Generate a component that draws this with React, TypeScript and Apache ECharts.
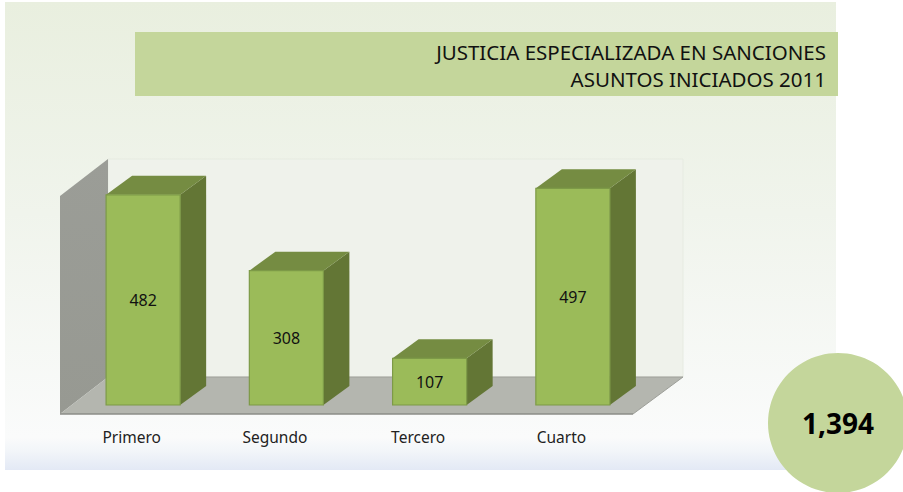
import React, { useEffect, useRef } from "react";
import * as echarts from "echarts";

const categories = ["Primero", "Segundo", "Tercero", "Cuarto"];
const values = [482, 308, 107, 497];
const titleLines = ["JUSTICIA ESPECIALIZADA EN SANCIONES", "ASUNTOS INICIADOS 2011"];
const totalLabel = "1,394";

const FONT = '"Noto Sans", sans-serif';
const W = 903, H = 492;
// 3D geometry, in pixels
const WALL_DX = 48, WALL_DY = 37, BACK_EXTRA = 2;
const BAR_SHIFT_X = 11.5, BAR_SHIFT_Y = 9;
const BAR_DX = 26, BAR_DY = 19;
const BAR_FRACTION = 0.517;

const renderWalls = (params: any) => {
  const c = params.coordSys;
  const x0 = c.x, x1 = c.x + c.width, top = c.y, bottom = c.y + c.height;
  return {
    type: "group",
    children: [
      {
        type: "rect",
        shape: { x: x0 + WALL_DX, y: top - WALL_DY, width: c.width + BACK_EXTRA, height: c.height },
        style: { fill: "#eff2eb", stroke: "#e6ebe1", lineWidth: 1 },
      },
      {
        type: "polygon",
        shape: { points: [[x0, bottom], [x0, top], [x0 + WALL_DX, top - WALL_DY], [x0 + WALL_DX, bottom - WALL_DY]] },
        style: {
          fill: new echarts.graphic.LinearGradient(0, 0, 0, 1, [
            { offset: 0, color: "#9b9d97" },
            { offset: 1, color: "#979992" },
          ]),
        },
      },
      {
        type: "polygon",
        shape: {
          points: [
            [x0, bottom],
            [x0 + WALL_DX, bottom - WALL_DY],
            [x1 + WALL_DX + BACK_EXTRA, bottom - WALL_DY],
            [x1, bottom],
          ],
        },
        style: { fill: "#b4b6af" },
      },
      {
        type: "line",
        shape: { x1: x0, y1: bottom, x2: x1, y2: bottom },
        style: { stroke: "#8b8d87", lineWidth: 1.5 },
      },
      {
        type: "line",
        shape: { x1: x0 + WALL_DX, y1: bottom - WALL_DY, x2: x1 + WALL_DX + BACK_EXTRA, y2: bottom - WALL_DY },
        style: { stroke: "#9d9f99", lineWidth: 1 },
      },
      {
        type: "line",
        shape: { x1, y1: bottom, x2: x1 + WALL_DX + BACK_EXTRA, y2: bottom - WALL_DY },
        style: { stroke: "#9d9f99", lineWidth: 1 },
      },
    ],
  };
};

const renderBar = (_params: any, api: any) => {
  const value = api.value(1);
  const [cx, yTop0] = api.coord([api.value(0), value]);
  const [, yBase0] = api.coord([api.value(0), 0]);
  const w = api.size([1, 0])[0] * BAR_FRACTION;
  const l = cx + BAR_SHIFT_X - w / 2, r = l + w;
  const t = yTop0 - BAR_SHIFT_Y, b = yBase0 - BAR_SHIFT_Y;
  return {
    type: "group",
    children: [
      {
        type: "polygon",
        shape: { points: [[r, t], [r + BAR_DX, t - BAR_DY], [r + BAR_DX, b - BAR_DY], [r, b]] },
        style: { fill: "#637635" },
      },
      {
        type: "polygon",
        shape: { points: [[l, t], [l + BAR_DX, t - BAR_DY], [r + BAR_DX, t - BAR_DY], [r, t]] },
        style: { fill: "#758c42" },
      },
      {
        type: "rect",
        shape: { x: l, y: t, width: w, height: b - t },
        style: { fill: "#9bbb59", stroke: "#7d9a47", lineWidth: 1.2 },
      },
      {
        type: "text",
        x: (l + r) / 2,
        y: (t + b) / 2,
        style: {
          text: String(value),
          fill: "#111",
          font: `16px ${FONT}`,
          align: "center",
          verticalAlign: "middle",
        },
      },
    ],
  };
};

export default function App() {
  const ref = useRef<HTMLDivElement>(null);
  useEffect(() => {
    document.body.style.margin = "0";
    const chart = echarts.init(ref.current!, undefined, { renderer: "svg" });
    chart.setOption({
      animation: false,
      backgroundColor: "#ffffff",
      grid: { left: 60, top: 196, width: 573, height: 218 },
      xAxis: {
        type: "category",
        data: categories,
        axisLine: { show: false },
        axisTick: { show: false },
        axisLabel: { color: "#222", fontFamily: FONT, fontSize: 15.5, margin: 15 },
      },
      yAxis: { type: "value", min: 0, max: 500, show: false, splitLine: { show: false } },
      series: [
        { type: "custom", coordinateSystem: "cartesian2d", renderItem: renderWalls, data: [[0, 0]], z: 1, silent: true },
        {
          type: "custom",
          coordinateSystem: "cartesian2d",
          renderItem: renderBar,
          encode: { x: 0, y: 1 },
          data: values.map((v, i) => [i, v]),
          z: 2,
        },
      ],
      graphic: {
        elements: [
          {
            type: "rect",
            z: -10,
            shape: { x: 5, y: 2, width: 831, height: 468 },
            style: {
              fill: new echarts.graphic.LinearGradient(0, 0, 0, 1, [
                { offset: 0, color: "#e9efdf" },
                { offset: 0.45, color: "#f0f4ec" },
                { offset: 0.93, color: "#fafbfb" },
                { offset: 0.96, color: "#f2f5f9" },
                { offset: 1, color: "#e3e9f5" },
              ]),
            },
          },
          { type: "rect", z: -5, shape: { x: 135, y: 32, width: 703, height: 64 }, style: { fill: "#c4d69b" } },
          {
            type: "text", z: 5, x: 826, y: 52,
            style: { text: titleLines[0], fill: "#111", font: `20.5px ${FONT}`, align: "right", verticalAlign: "middle" },
          },
          {
            type: "text", z: 5, x: 826, y: 79,
            style: { text: titleLines[1], fill: "#111", font: `20.5px ${FONT}`, align: "right", verticalAlign: "middle" },
          },
          { type: "circle", z: 5, shape: { cx: 838, cy: 423, r: 70 }, style: { fill: "#c4d69b" } },
          {
            type: "text", z: 6, x: 838, y: 423,
            style: { text: totalLabel, fill: "#000", font: `bold 28px ${FONT}`, align: "center", verticalAlign: "middle" },
          },
        ],
      },
    });
    return () => chart.dispose();
  }, []);
  return <div ref={ref} style={{ width: W, height: H }} />;
}
